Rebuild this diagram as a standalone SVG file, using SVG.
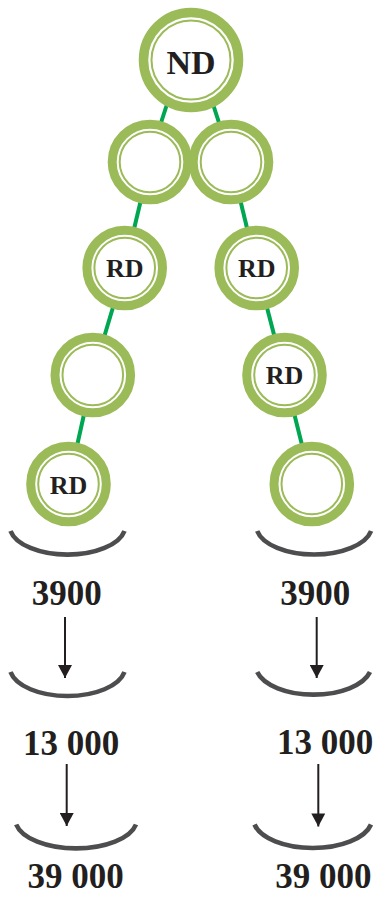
<svg xmlns="http://www.w3.org/2000/svg" width="378" height="902" viewBox="0 0 378 902">
<style>
.ring{fill:#fff;stroke:#9bbb59;stroke-width:9}
.thin{fill:none;stroke:#9bbb59;stroke-width:2}
.edge{stroke:#00a651;stroke-width:4;fill:none}
.bowl{fill:none;stroke:#4d4d4f;stroke-width:4.6}
.arr{stroke:#231f20;stroke-width:2;fill:none}
.lbl{font-family:"Liberation Serif",serif;font-weight:bold;fill:#231f20;text-anchor:middle}
.num{font-family:"Liberation Serif",serif;font-weight:bold;font-size:35px;fill:#231f20;text-anchor:middle}
</style>
<defs>
<marker id="ah" markerUnits="userSpaceOnUse" markerWidth="14" markerHeight="14" viewBox="0 0 13 14" refX="13" refY="7" orient="auto">
<path d="M0,0 L13,7 L0,14 z" fill="#231f20"/>
</marker>
</defs>
<g id="connectors">
<line class="edge" x1="170" y1="95" x2="157" y2="135"/>
<line class="edge" x1="210" y1="95" x2="223" y2="135"/>
<line class="edge" x1="150" y1="162" x2="124.7" y2="268"/>
<line class="edge" x1="124.7" y1="268" x2="92.8" y2="375"/>
<line class="edge" x1="92.8" y1="375" x2="68.5" y2="484"/>
<line class="edge" x1="231" y1="162" x2="256.7" y2="268"/>
<line class="edge" x1="256.7" y1="268" x2="284.5" y2="375"/>
<line class="edge" x1="284.5" y1="375" x2="311.8" y2="484"/>
<line class="arr" x1="65" y1="617" x2="65" y2="678" marker-end="url(#ah)"/>
<line class="arr" x1="316.7" y1="617" x2="316.7" y2="678" marker-end="url(#ah)"/>
<line class="arr" x1="66.7" y1="764" x2="66.7" y2="826" marker-end="url(#ah)"/>
<line class="arr" x1="318.3" y1="764" x2="318.3" y2="826.5" marker-end="url(#ah)"/>
</g>
<g id="node-nd">
<circle class="ring" cx="191" cy="60" r="47.5" style="stroke-width:9.5"/>
<circle class="thin" cx="191" cy="60" r="39.5"/>
<text class="lbl" x="191" y="74" font-size="34">ND</text>
</g>
<g id="node-l1">
<circle class="ring" cx="150" cy="162" r="37.8"/>
<circle class="thin" cx="150" cy="162" r="30.3"/>
</g>
<g id="node-r1">
<circle class="ring" cx="231" cy="162" r="37.8"/>
<circle class="thin" cx="231" cy="162" r="30.3"/>
</g>
<g id="node-l2">
<circle class="ring" cx="124.7" cy="268" r="37.8"/>
<circle class="thin" cx="124.7" cy="268" r="30.3"/>
<text class="lbl" x="124.7" y="277" font-size="26">RD</text>
</g>
<g id="node-r2">
<circle class="ring" cx="256.7" cy="268" r="37.8"/>
<circle class="thin" cx="256.7" cy="268" r="30.3"/>
<text class="lbl" x="256.7" y="277" font-size="26">RD</text>
</g>
<g id="node-l3">
<circle class="ring" cx="92.8" cy="375" r="37.8"/>
<circle class="thin" cx="92.8" cy="375" r="30.3"/>
</g>
<g id="node-r3">
<circle class="ring" cx="284.5" cy="375" r="37.8"/>
<circle class="thin" cx="284.5" cy="375" r="30.3"/>
<text class="lbl" x="284.5" y="384" font-size="26">RD</text>
</g>
<g id="node-l4">
<circle class="ring" cx="68.5" cy="484" r="37.8"/>
<circle class="thin" cx="68.5" cy="484" r="30.3"/>
<text class="lbl" x="68.5" y="493.5" font-size="26">RD</text>
</g>
<g id="node-r4">
<circle class="ring" cx="311.8" cy="484" r="37.8"/>
<circle class="thin" cx="311.8" cy="484" r="30.3"/>
</g>
<g id="bowls">
<path class="bowl" d="M10.5,531 A58,29 0 0 0 124.5,531"/>
<path class="bowl" d="M257.2,531 A58,29 0 0 0 371.1,531"/>
<path class="bowl" d="M10.5,672 A58,29.5 0 0 0 124.5,672"/>
<path class="bowl" d="M257.2,672 A58,29.5 0 0 0 370,672"/>
<path class="bowl" d="M16.2,824.5 A61,29.5 0 0 0 136,824.5"/>
<path class="bowl" d="M254.5,824.5 A59.5,29.5 0 0 0 371,824.5"/>
</g>
<g id="numbers">
<text class="num" x="66.7" y="605">3900</text>
<text class="num" x="315.3" y="605">3900</text>
<text class="num" x="71" y="755">13 000</text>
<text class="num" x="325" y="753.5">13 000</text>
<text class="num" x="75.5" y="888">39 000</text>
<text class="num" x="323.3" y="888">39 000</text>
</g>
</svg>
